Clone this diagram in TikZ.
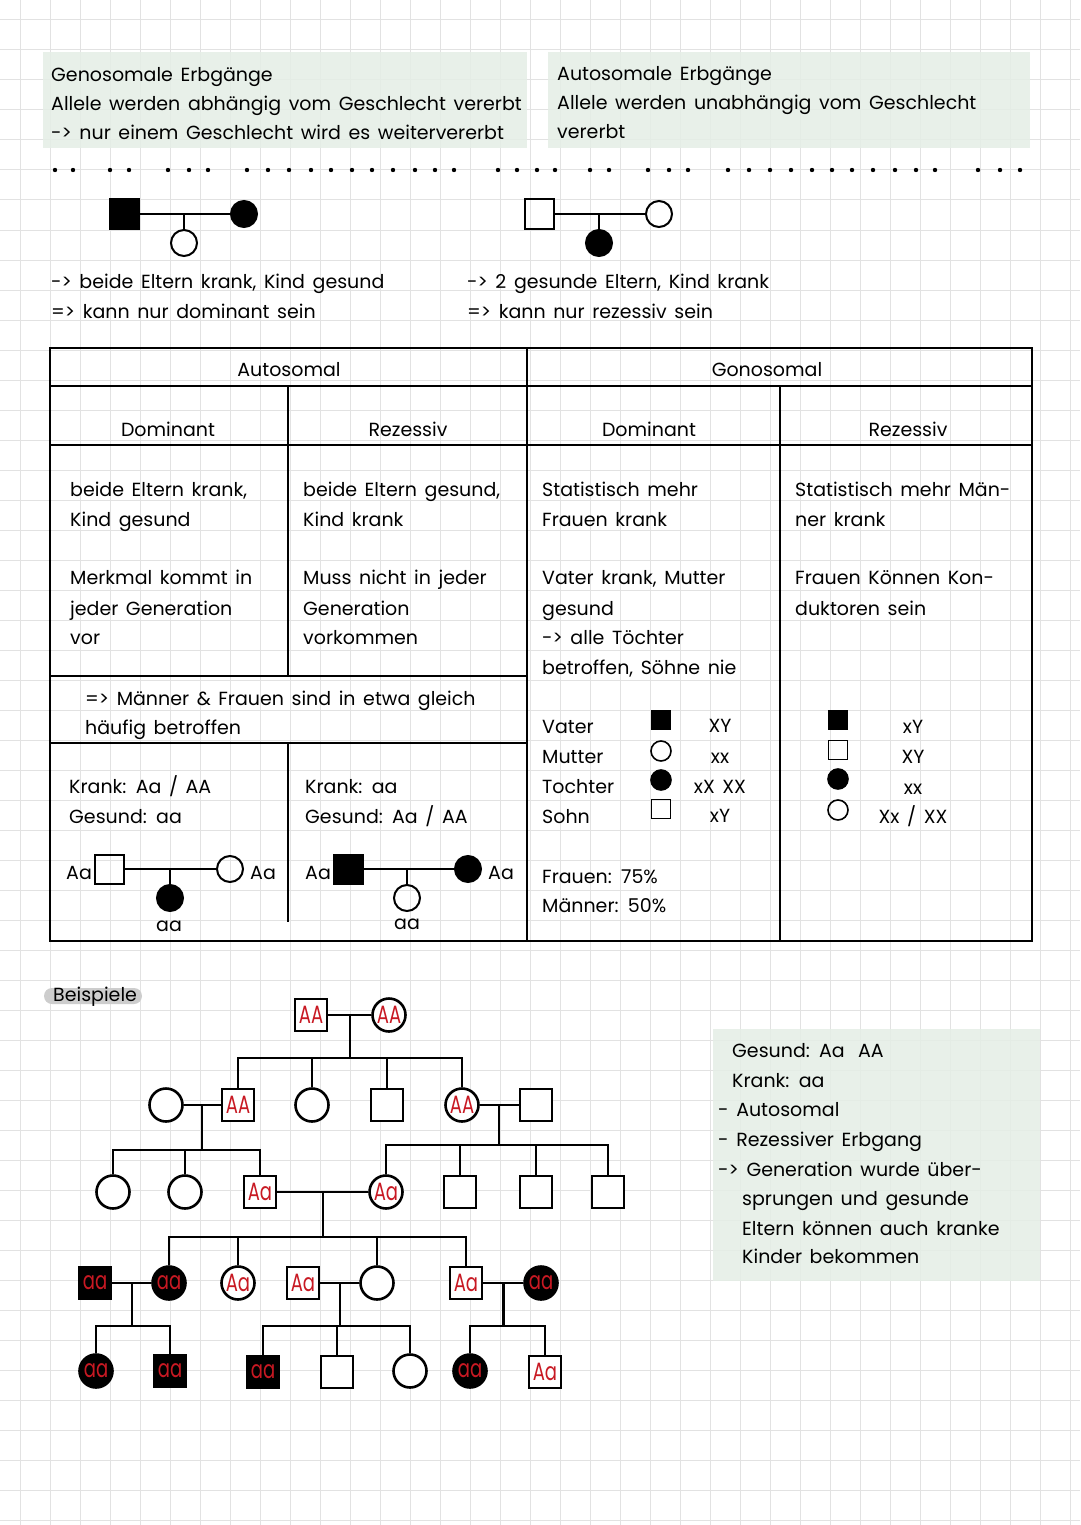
\documentclass[tikz,border=0pt]{standalone}
\usepackage{fontspec}
\setmainfont{Poppins}
\newfontfamily\gtfam[FakeStretch=0.72]{Poppins}
\usepackage{tikz}
\usetikzlibrary{calc}
\definecolor{boxgreen}{RGB}{229,238,230}
\definecolor{gridgray}{RGB}{226,226,226}
\definecolor{gred}{RGB}{200,25,35}
\definecolor{markgray}{RGB}{205,205,205}
\newcommand{\hand}{\fontsize{19}{30}\selectfont\spaceskip=0.4em plus 0.1em\relax}
\newcommand{\gtfont}{\gtfam\fontsize{25}{25}\selectfont}
\tikzset{
  gridline/.style={gridgray, line width=1pt},
  txt/.style={anchor=base west, inner sep=0pt, font=\hand},
  ctxt/.style={anchor=base, inner sep=0pt, font=\hand},
  tab/.style={line width=2pt},
  link/.style={line width=2pt},
  plink/.style={line width=2.6pt},
  sq/.style={draw, line width=2pt, minimum size=29pt, inner sep=0pt},
  sqk/.style={sq, fill=black},
  ci/.style={draw, circle, line width=2pt, minimum size=26pt, inner sep=0pt},
  cik/.style={ci, fill=black},
  lsq/.style={draw, line width=1.6pt, minimum size=19pt, inner sep=0pt},
  lsqk/.style={lsq, fill=black},
  lci/.style={draw, circle, line width=1.6pt, minimum size=20pt, inner sep=0pt},
  lcik/.style={lci, fill=black},
  psq/.style={draw, line width=2.6pt, minimum size=32pt, inner sep=0pt, font=\gtfont, text=gred, fill=white},
  psqk/.style={psq, fill=black},
  pci/.style={draw, circle, line width=2.6pt, minimum size=33pt, inner sep=0pt, font=\gtfont, text=gred, fill=white},
  pcik/.style={pci, fill=black},
}

\begin{document}
\begin{tikzpicture}[x=1pt,y=-1pt]
  \path[use as bounding box] (0,0) rectangle (1080,1525);
  \fill[white] (0,0) rectangle (1080,1525);

  % grid paper
  \foreach \gx in {20,50,...,1070} \draw[gridline] (\gx,0) -- (\gx,1525);
  \foreach \gy in {20,50,...,1520} \draw[gridline] (0,\gy) -- (1080,\gy);

  % notes on top
  \fill[boxgreen, fill opacity=0.85] (43,52) rectangle (527,148);
  \fill[boxgreen, fill opacity=0.85] (548,52) rectangle (1030,148);
  \node[txt] at (51,82) (genoA) {Genosomale Erbgänge};
  \node[txt] at (51,111) (genoB) {Allele werden abhängig vom Geschlecht vererbt};
  \node[txt] at (51,140) (genoC) {-> nur einem Geschlecht wird es weitervererbt};
  \node[txt] at (557,81) (autoA) {Autosomale Erbgänge};
  \node[txt] at (557,110) (autoB) {Allele werden unabhängig vom Geschlecht};
  \node[txt] at (557,139) (autoC) {vererbt};

  \foreach \dx in {55,73,110,129,168,189,208,247,268,289,311,331,352,372,393,415,435,454,
                   498,517,537,555,590,609,648,669,688,728,749,770,791,812,832,852,873,895,916,935,
                   978,1000,1020}
    \fill (\dx,170) circle (2.2pt);

  % two small pedigrees
  \node[sqk] at (124,214) (onF) {};
  \node[cik] at (244,214) (onM) {};
  \node[ci] at (184,243) (onC) {};
  \draw[link] (onF) -- (onM);
  \draw[link] (onC) -- (onC |- onF);

  \node[sq] at (539,214) (twF) {};
  \node[ci] at (659,214) (twM) {};
  \node[cik] at (599,243) (twC) {};
  \draw[link] (twF) -- (twM);
  \draw[link] (twC) -- (twC |- twF);

  \node[txt] at (51,288) (sumA) {-> beide Eltern krank, Kind gesund};
  \node[txt] at (51,318) (sumB) {=> kann nur dominant sein};
  \node[txt] at (467,288) (sumC) {-> 2 gesunde Eltern, Kind krank};
  \node[txt] at (467,318) (sumD) {=> kann nur rezessiv sein};

  % table
  \draw[tab] (50,348) rectangle (1032,941);
  \draw[tab] (50,386) -- (1032,386);
  \draw[tab] (50,445) -- (1032,445);
  \draw[tab] (527,348) -- (527,941);
  \draw[tab] (780,386) -- (780,941);
  \draw[tab] (288,386) -- (288,676);
  \draw[tab] (288,743) -- (288,922);
  \draw[tab] (50,676) -- (527,676);
  \draw[tab] (50,743) -- (527,743);

  \node[ctxt] at (289,376) (hAuto) {Autosomal};
  \node[ctxt] at (767,376) (hGono) {Gonosomal};
  \node[ctxt] at (168,436) (hAD) {Dominant};
  \node[ctxt] at (408,436) (hAR) {Rezessiv};
  \node[ctxt] at (649,436) (hGD) {Dominant};
  \node[ctxt] at (908,436) (hGR) {Rezessiv};

  \node[txt] at (70,496) (adA) {beide Eltern krank,};
  \node[txt] at (70,526) (adB) {Kind gesund};
  \node[txt] at (70,584) (adC) {Merkmal kommt in};
  \node[txt] at (70,615) (adD) {jeder Generation};
  \node[txt] at (70,644) (adE) {vor};

  \node[txt] at (303,496) (arA) {beide Eltern gesund,};
  \node[txt] at (303,526) (arB) {Kind krank};
  \node[txt] at (303,584) (arC) {Muss nicht in jeder};
  \node[txt] at (303,615) (arD) {Generation};
  \node[txt] at (303,644) (arE) {vorkommen};

  \node[txt] at (85,705) (bothA) {=> Männer \& Frauen sind in etwa gleich};
  \node[txt] at (85,734) (bothB) {häufig betroffen};

  \node[txt] at (69,793) (adF) {Krank: Aa / AA};
  \node[txt] at (69,823) (adG) {Gesund: aa};
  \node[txt] at (305,793) (arF) {Krank: aa};
  \node[txt] at (305,823) (arG) {Gesund: Aa / AA};

  \node[sq] at (109,869) (adFa) {};
  \node[ci] at (230,869) (adMo) {};
  \node[cik] at (170,898) (adCh) {};
  \draw[link] (adFa) -- (adMo);
  \draw[link] (adCh) -- (adCh |- adFa);
  \node[txt] at (66,879) (adFaL) {Aa};
  \node[txt] at (250,879) (adMoL) {Aa};
  \node[ctxt] at (169,931) (adChL) {aa};

  \node[sqk] at (348,869) (arFa) {};
  \node[cik] at (468,869) (arMo) {};
  \node[ci] at (407,898) (arCh) {};
  \draw[link] (arFa) -- (arMo);
  \draw[link] (arCh) -- (arCh |- arFa);
  \node[txt] at (305,879) (arFaL) {Aa};
  \node[txt] at (488,879) (arMoL) {Aa};
  \node[ctxt] at (407,929) (arChL) {aa};

  \node[txt] at (542,496) (gdA) {Statistisch mehr};
  \node[txt] at (542,526) (gdB) {Frauen krank};
  \node[txt] at (542,584) (gdC) {Vater krank, Mutter};
  \node[txt] at (542,615) (gdD) {gesund};
  \node[txt] at (542,644) (gdE) {-> alle Töchter};
  \node[txt] at (542,674) (gdF) {betroffen, Söhne nie};
  \node[txt] at (542,733) (gdVa) {Vater};
  \node[txt] at (542,763) (gdMu) {Mutter};
  \node[txt] at (542,793) (gdTo) {Tochter};
  \node[txt] at (542,823) (gdSo) {Sohn};
  \node[lsqk] at (661,720) (gdVaS) {};
  \node[lci] at (661,751) (gdMuS) {};
  \node[lcik] at (661,780) (gdToS) {};
  \node[lsq] at (661,809) (gdSoS) {};
  \node[ctxt] at (720,732) (gdVaG) {XY};
  \node[ctxt] at (720,763) (gdMuG) {xx};
  \node[ctxt] at (720,793) (gdToG) {xX XX};
  \node[ctxt] at (720,822) (gdSoG) {xY};
  \node[txt] at (542,883) (gdW) {Frauen: 75\%};
  \node[txt] at (542,912) (gdM) {Männer: 50\%};

  \node[txt] at (795,496) (grA) {Statistisch mehr Män-};
  \node[txt] at (795,526) (grB) {ner krank};
  \node[txt] at (795,584) (grC) {Frauen Können Kon-};
  \node[txt] at (795,615) (grD) {duktoren sein};
  \node[lsqk] at (838,720) (grVaS) {};
  \node[lsq] at (838,750) (grSoS) {};
  \node[lcik] at (838,779) (grToS) {};
  \node[lci] at (838,810) (grMuS) {};
  \node[ctxt] at (913,733) (grVaG) {xY};
  \node[ctxt] at (913,763) (grSoG) {XY};
  \node[ctxt] at (913,794) (grToG) {xx};
  \node[ctxt] at (913,823) (grMuG) {Xx / XX};

  % Beispiele
  \fill[markgray, rounded corners=8pt] (44,988) rectangle (142,1004);
  \node[txt] at (53,1001) (expl) {Beispiele};

  \node[psq] at (311,1015) (gIa) {AA};
  \node[pci] at (389,1015) (gIb) {AA};

  \node[pci] at (166,1105) (gIIa) {};
  \node[psq] at (238,1105) (gIIb) {AA};
  \node[pci] at (312,1105) (gIIc) {};
  \node[psq] at (387,1105) (gIId) {};
  \node[pci] at (462,1105) (gIIe) {AA};
  \node[psq] at (536,1105) (gIIf) {};

  \node[pci] at (113,1192) (gIIIa) {};
  \node[pci] at (185,1192) (gIIIb) {};
  \node[psq] at (260,1192) (gIIIc) {Aa};
  \node[pci] at (386,1192) (gIIId) {Aa};
  \node[psq] at (460,1192) (gIIIe) {};
  \node[psq] at (536,1192) (gIIIf) {};
  \node[psq] at (608,1192) (gIIIg) {};

  \node[psqk] at (95,1283) (gIVa) {aa};
  \node[pcik] at (169,1283) (gIVb) {aa};
  \node[pci] at (238,1283) (gIVc) {Aa};
  \node[psq] at (303,1283) (gIVd) {Aa};
  \node[pci] at (377,1283) (gIVe) {};
  \node[psq] at (466,1283) (gIVf) {Aa};
  \node[pcik] at (541,1283) (gIVg) {aa};

  \node[pcik] at (96,1371) (gVa) {aa};
  \node[psqk] at (170,1371) (gVb) {aa};
  \node[psqk] at (263,1372) (gVc) {aa};
  \node[psq] at (337,1372) (gVd) {};
  \node[pci] at (410,1371) (gVe) {};
  \node[pcik] at (470,1371) (gVf) {aa};
  \node[psq] at (545,1372) (gVg) {Aa};

  \draw[plink] (gIa) -- (gIb);
  \coordinate (mI) at ($(gIa)!0.5!(gIb)$);
  \coordinate (sI) at ($(mI)+(0,43)$);
  \draw[plink] (mI) -- (sI);
  \foreach \c in {gIIb,gIIc,gIId,gIIe} \draw[plink] (\c) |- (sI);

  \draw[plink] (gIIa) -- (gIIb);
  \coordinate (mIIa) at ($(gIIa)!0.5!(gIIb)$);
  \coordinate (sIIa) at ($(mIIa)+(0,45)$);
  \draw[plink] (mIIa) -- (sIIa);
  \foreach \c in {gIIIa,gIIIb,gIIIc} \draw[plink] (\c) |- (sIIa);

  \draw[plink] (gIIe) -- (gIIf);
  \coordinate (mIIb) at ($(gIIe)!0.5!(gIIf)$);
  \coordinate (sIIb) at ($(mIIb)+(0,40)$);
  \draw[plink] (mIIb) -- (sIIb);
  \foreach \c in {gIIId,gIIIe,gIIIf,gIIIg} \draw[plink] (\c) |- (sIIb);

  \draw[plink] (gIIIc) -- (gIIId);
  \coordinate (mIII) at ($(gIIIc)!0.5!(gIIId)$);
  \coordinate (sIII) at ($(mIII)+(0,45)$);
  \draw[plink] (mIII) -- (sIII);
  \foreach \c in {gIVb,gIVc,gIVe,gIVf} \draw[plink] (\c) |- (sIII);

  \draw[plink] (gIVa) -- (gIVb);
  \coordinate (mIVa) at ($(gIVa)!0.5!(gIVb)$);
  \coordinate (sIVa) at ($(mIVa)+(0,43)$);
  \draw[plink] (mIVa) -- (sIVa);
  \foreach \c in {gVa,gVb} \draw[plink] (\c) |- (sIVa);

  \draw[plink] (gIVd) -- (gIVe);
  \coordinate (mIVb) at ($(gIVd)!0.5!(gIVe)$);
  \coordinate (sIVb) at ($(mIVb)+(0,43)$);
  \draw[plink] (mIVb) -- (sIVb);
  \foreach \c in {gVc,gVd,gVe} \draw[plink] (\c) |- (sIVb);

  \draw[plink] (gIVf) -- (gIVg);
  \coordinate (mIVc) at ($(gIVf)!0.5!(gIVg)$);
  \coordinate (sIVc) at ($(mIVc)+(0,43)$);
  \draw[plink] (mIVc) -- (sIVc);
  \foreach \c in {gVf,gVg} \draw[plink] (\c) |- (sIVc);

  % note on the example
  \fill[boxgreen, fill opacity=0.85] (713,1029) rectangle (1040,1281);
  \node[txt] at (732,1057) (noA) {Gesund: Aa\hspace{0.7em}AA};
  \node[txt] at (732,1087) (noB) {Krank: aa};
  \node[txt] at (718,1116) (noC) {- Autosomal};
  \node[txt] at (718,1146) (noD) {- Rezessiver Erbgang};
  \node[txt] at (718,1176) (noE) {-> Generation wurde über-};
  \node[txt] at (742,1205) (noF) {sprungen und gesunde};
  \node[txt] at (742,1235) (noG) {Eltern können auch kranke};
  \node[txt] at (742,1263) (noH) {Kinder bekommen};
\end{tikzpicture}
\end{document}
